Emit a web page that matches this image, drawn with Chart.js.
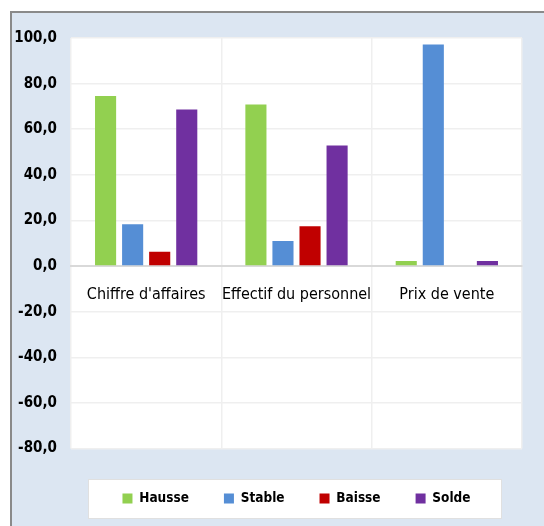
<!DOCTYPE html>
<html><head><meta charset="utf-8">
<script src="https://cdn.jsdelivr.net/npm/chart.js@4"></script>
<style>html,body{margin:0;padding:0;background:#fff}#wrap{width:544px;height:526px;position:relative}</style>
</head><body><div id="wrap"><canvas id="c"></canvas></div>
<script>
const categories = ["Chiffre d'affaires", "Effectif du personnel", "Prix de vente"];
const seriesNames = ["Hausse", "Stable", "Baisse", "Solde"];
const hausse = [74.6, 70.8, 2.2];
const stable = [18.3, 11.0, 97.2];
const baisse = [6.3, 17.4, 0];
const solde = [68.6, 52.9, 2.2];
const yTicks = [-80, -60, -40, -20, 0, 20, 40, 60, 80, 100];
const colors = ["#92d050", "#558ed5", "#c00000", "#7030a0"];

const FONT = '"DejaVu Sans Condensed", "DejaVu Sans", sans-serif';
const seriesValues = [hausse, stable, baisse, solde];
const LEG_PAD = 35;

const bgPlugin = {
  id: 'bg',
  afterLayout(chart) {
    const lg = chart.legend, a = chart.chartArea;
    if (lg) {
      lg.left = a.left; lg.right = a.right; lg.width = a.right - a.left;
      const ih = lg.legendHitBoxes && lg.legendHitBoxes.length ? lg.legendHitBoxes[0].height : 16;
      const newTop = a.bottom + 50 - LEG_PAD - ih / 2;
      const h = lg.height;
      lg.top = newTop; lg.bottom = newTop + h;
    }
  },
  beforeDraw(chart) {
    const { ctx, chartArea: a, width, height } = chart;
    ctx.save();
    ctx.fillStyle = '#ffffff'; ctx.fillRect(0, 0, width, height);
    ctx.fillStyle = '#dce6f2'; ctx.fillRect(11, 12, width - 11, height - 12);
    ctx.strokeStyle = '#8a8a8a'; ctx.lineWidth = 2;
    ctx.beginPath(); ctx.moveTo(11, height); ctx.lineTo(11, 12); ctx.lineTo(width, 12); ctx.stroke();
    ctx.fillStyle = '#ffffff';
    ctx.fillRect(a.left, a.top, a.right - a.left, a.bottom - a.top);
    const lg = chart.legend;
    if (lg && lg.legendHitBoxes && lg.legendHitBoxes.length) {
      const hb = lg.legendHitBoxes;
      const l = Math.min(...hb.map(h => h.left)) - 34;
      const r = Math.max(...hb.map(h => h.left + h.width)) + 31;
      const cy = hb[0].top + hb[0].height / 2;
      ctx.fillStyle = '#ffffff';
      ctx.fillRect(l, cy - 19.5, r - l, 39);
      ctx.strokeStyle = '#e0e0e0'; ctx.lineWidth = 1;
      ctx.strokeRect(Math.round(l) + 0.5, Math.round(cy - 19.5) + 0.5, Math.round(r - l), 39);
    }
    ctx.restore();
  }
};

new Chart(document.getElementById('c'), {
  type: 'bar',
  data: {
    labels: categories,
    datasets: seriesNames.map((n, i) => ({
      label: n,
      data: seriesValues[i],
      backgroundColor: colors[i],
      borderWidth: 0,
      barPercentage: 0.78,
      categoryPercentage: 0.72
    }))
  },
  options: {
    responsive: true,
    maintainAspectRatio: false,
    animation: false,
    layout: { padding: { top: 38, right: 22, left: 0, bottom: 19 } },
    plugins: {
      tooltip: { enabled: false },
      legend: {
        position: 'bottom',
        labels: {
          boxWidth: 10, boxHeight: 10, padding: LEG_PAD, color: '#000',
          font: { family: FONT, size: 13.5, weight: 'bold' }
        }
      }
    },
    scales: {
      x: {
        position: { y: 0 },
        grid: { offset: true, color: '#efefef', lineWidth: 1.5, drawTicks: false },
        border: { color: '#d9d9d9', width: 2 },
        ticks: { color: '#000', padding: 19, maxRotation: 0, autoSkip: false, font: { family: FONT, size: 16 } }
      },
      y: {
        min: -80, max: 100,
        afterBuildTicks(scale) { scale.ticks = yTicks.map(v => ({ value: v })); },
        afterFit(scale) { scale.width = 71; },
        grid: { color: '#efefef', lineWidth: 1.5, drawTicks: false },
        border: { display: false },
        ticks: {
          color: '#000', padding: 14,
          font: { family: FONT, size: 15, weight: 'bold' },
          callback: v => v.toFixed(1).replace('.', ',')
        }
      }
    }
  },
  plugins: [bgPlugin]
});
</script>
</body></html>
